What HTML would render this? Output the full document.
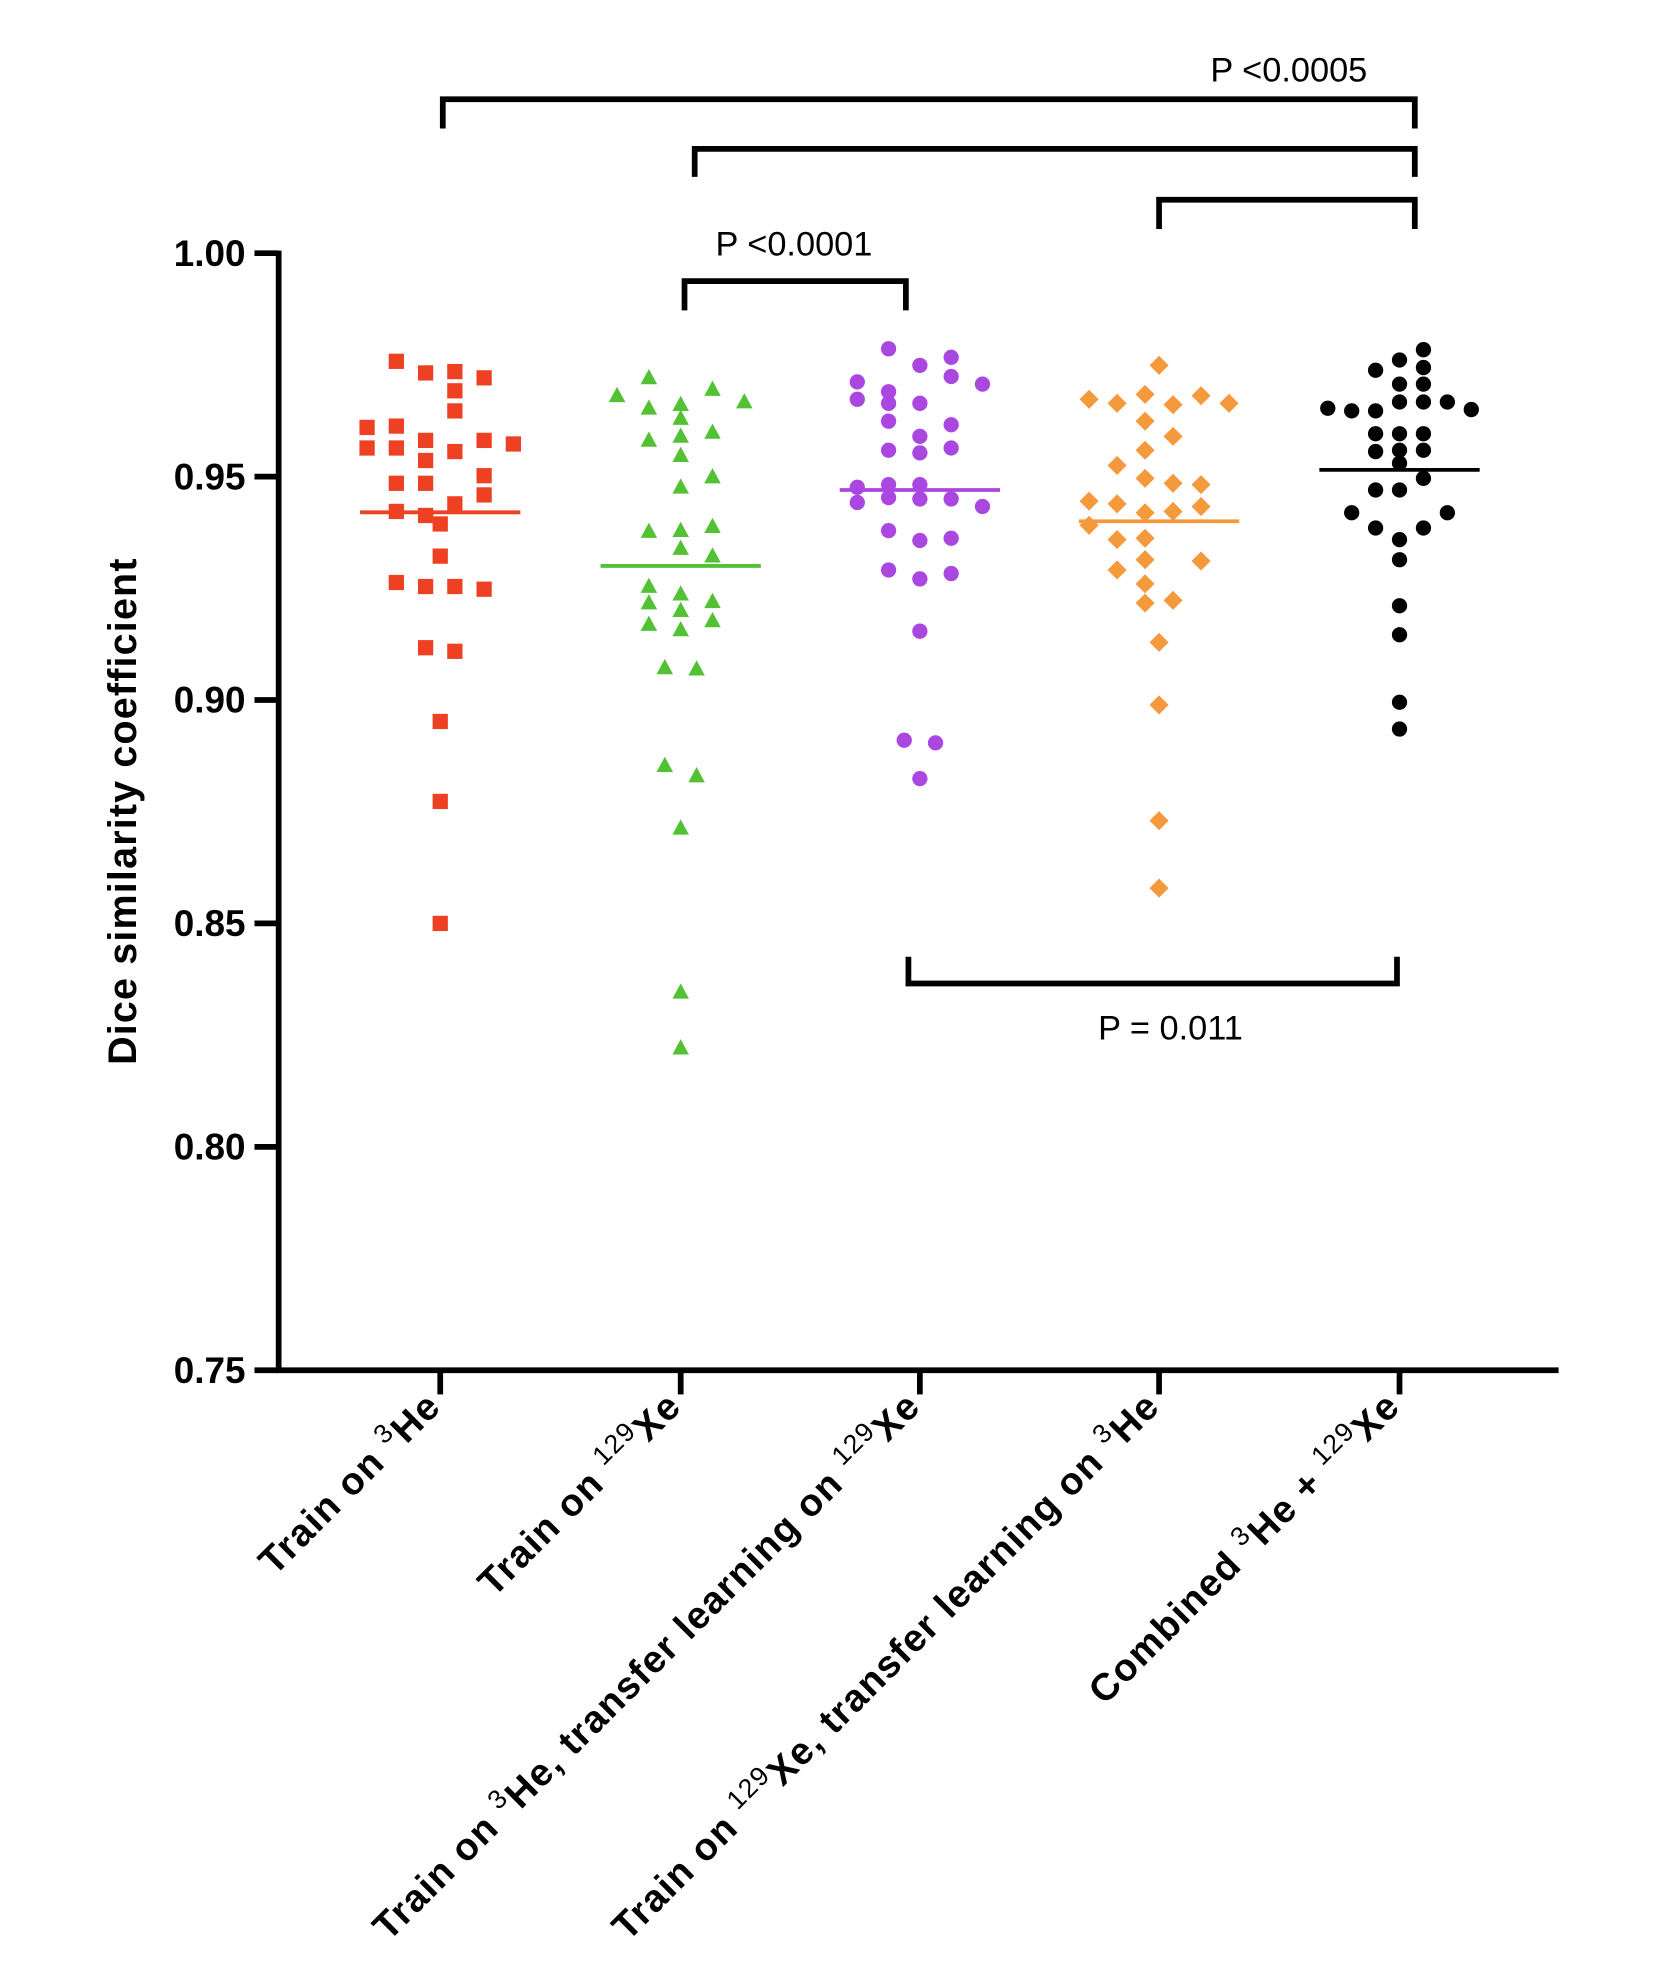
<!DOCTYPE html>
<html><head><meta charset="utf-8"><style>
html,body{margin:0;padding:0;background:#fff;}
svg{display:block;font-family:"Liberation Sans",Arial,sans-serif;}
</style></head><body>
<svg id="chart" width="1654" height="1978" viewBox="0 0 1300 1554.7" xmlns="http://www.w3.org/2000/svg"></svg>
<script>
const categories = ["Train on 3He","Train on 129Xe","Train on 3He, transfer learning on 129Xe","Train on 129Xe, transfer learning on 3He","Combined 3He + 129Xe"];
const colors = ["#ee4124","#52c234","#a947e0","#f59a3c","#000000"];
const shapes = ["square","triangle","circle","diamond","circle"];
const yTicks = [0.75,0.80,0.85,0.90,0.95,1.00];
const yTickLabels = ["0.75","0.80","0.85","0.90","0.95","1.00"];
const medians = [0.942,0.930,0.947,0.940,0.9515];

const valsRed = [.9758,.9732,.9735,.9721,.9610,.9613,.9692,.9647,.9564,.9564,.9581,.9536,.9556,.9581,.9573,.9502,.9485,.9485,.9459,.9422,.9413,.9439,.9394,.9322,.9263,.9254,.9254,.9248,.9117,.9109,.8952,.8773,.8500];
const slotRed = [-3,-1,1,3,-5,-3,1,1,-5,-3,-1,-1,1,3,5,3,-3,-1,3,-3,-1,1,0,0,-3,-1,1,3,-1,1,0,0,0];
const valsGreen = [.9721,.9681,.9653,.9661,.9695,.9667,.9630,.9599,.9581,.9590,.9547,.9499,.9476,.9377,.9379,.9388,.9339,.9322,.9254,.9237,.9217,.9220,.9200,.9169,.9157,.9177,.9072,.9069,.8853,.8830,.8713,.8346,.8221];
const slotGreen = [-2,-4,-2,0,2,4,0,2,-2,0,0,2,0,-2,0,2,0,2,-2,0,-2,2,0,-2,0,2,-1,1,-1,1,0,0,0];
const valsPurple = [.9786,.9712,.9690,.9749,.9767,.9724,.9707,.9673,.9664,.9664,.9624,.9590,.9616,.9559,.9553,.9564,.9476,.9482,.9482,.9453,.9442,.9450,.9450,.9433,.9379,.9357,.9362,.9291,.9271,.9283,.9154,.8910,.8904,.8824];
const slotPurple = [-2,-4,-2,0,2,2,4,-4,-2,0,-2,0,2,-2,0,2,-4,-2,0,-2,-4,0,2,4,-2,0,2,-2,0,2,0,-1,1,0];
const valsOrange = [.9749,.9673,.9664,.9684,.9661,.9681,.9664,.9624,.9590,.9559,.9525,.9496,.9485,.9482,.9445,.9439,.9419,.9422,.9433,.9391,.9359,.9362,.9311,.9291,.9314,.9260,.9223,.9217,.9129,.8989,.8730,.8579];
const slotOrange = [0,-5,-3,-1,1,3,5,-1,1,-1,-3,-1,1,3,-5,-3,-1,1,3,-5,-3,-1,3,-3,-1,-1,1,-1,0,0,0,0];
const valsBlack = [.9784,.9761,.9738,.9744,.9653,.9647,.9647,.9707,.9707,.9667,.9650,.9667,.9667,.9596,.9596,.9596,.9556,.9559,.9559,.9530,.9496,.9470,.9470,.9419,.9419,.9385,.9359,.9385,.9314,.9211,.9146,.8995,.8935];
const slotBlack = [2,0,-2,2,-6,-4,-2,0,2,4,6,0,2,-2,0,2,-2,0,2,0,2,-2,0,-4,4,-2,0,2,0,0,0,0,0];

const allVals = [valsRed,valsGreen,valsPurple,valsOrange,valsBlack];
const allSlots = [slotRed,slotGreen,slotPurple,slotOrange,slotBlack];
const slotUnit = [11.5,12.5,12.3,11,9.4];

const comparisons = [[0,4],[1,4],[3,4],[1,2],[2,4]];
const pLabels = ["P <0.0005","","","P <0.0001","P = 0.011"];

const NS="http://www.w3.org/2000/svg";
const svg=document.getElementById('chart');
const X0=219,X1=1225,Y0=1077,Y1=199;
const catX=[346,535,723,911,1100];
function y(v){return Y0-(v-0.75)/0.25*(Y0-Y1);}
function x(i){return catX[i];}
function el(tag,attrs,parent){const e=document.createElementNS(NS,tag);for(const k in attrs)e.setAttribute(k,attrs[k]);(parent||svg).appendChild(e);return e;}

const ya=el('line',{x1:X0,y1:Y1-2,x2:X0,y2:Y0+2,stroke:'#000','stroke-width':4.5});


const xa=el('line',{x1:X0-2,y1:Y0,x2:X1,y2:Y0,stroke:'#000','stroke-width':4.5});


yTicks.forEach((t,i)=>{
  const tk=el('line',{x1:X0-19,y1:y(t),x2:X0,y2:y(t),stroke:'#000','stroke-width':4.5});
  
  
  const tl=el('text',{x:X0-26,y:y(t)+10,'text-anchor':'end','font-size':29,'font-weight':'bold'});
  tl.textContent=yTickLabels[i];
  
  
});
const yt=el('text',{x:0,y:0,'text-anchor':'middle','font-size':31,'font-weight':'bold','textLength':398,transform:'translate(107,638) rotate(-90)'});
yt.textContent='Dice similarity coefficient';



function addLabel(i,parts){
  const t=el('text',{x:0,y:0,'text-anchor':'end','font-size':30,'font-weight':'bold','letter-spacing':1,transform:`translate(${x(i)+2},${Y0+30}) rotate(-45)`});
  
  
  parts.forEach(p=>{
    const s=el('tspan',p[1]?{'font-size':21,'font-weight':'normal',dy:-12}:{dy:p[2]?12:0},t);
    s.textContent=p[0];
  });
}
catX.forEach((cx,i)=>{
  const tk=el('line',{x1:x(i),y1:Y0,x2:x(i),y2:Y0+19,stroke:'#000','stroke-width':4.5});
  
  
});
addLabel(0,[["Train on "],["3",1],["He",0,1]]);
addLabel(1,[["Train on "],["129",1],["Xe",0,1]]);
addLabel(2,[["Train on "],["3",1],["He, transfer learning on ",0,1],["129",1],["Xe",0,1]]);
addLabel(3,[["Train on "],["129",1],["Xe, transfer learning on ",0,1],["3",1],["He",0,1]]);
addLabel(4,[["Combined "],["3",1],["He + ",0,1],["129",1],["Xe",0,1]]);

allVals.forEach((vals,g)=>{
  const grp=el('g',{fill:colors[g]});
  
  
  vals.forEach((v,k)=>{
    const px=x(g)+allSlots[g][k]*slotUnit[g], py=y(v);
    let m;
    if(shapes[g]==='square') m=el('rect',{x:px-6,y:py-6,width:12,height:12},grp);
    else if(shapes[g]==='triangle') m=el('polygon',{points:`${px},${py-7} ${px+6.5},${py+5} ${px-6.5},${py+5}`},grp);
    else if(shapes[g]==='diamond') m=el('polygon',{points:`${px},${py-7.5} ${px+7.5},${py} ${px},${py+7.5} ${px-7.5},${py}`},grp);
    else m=el('circle',{cx:px,cy:py,r:6},grp);
    
    
  });
  const md=el('line',{x1:x(g)-63,x2:x(g)+63,y1:y(medians[g]),y2:y(medians[g]),stroke:colors[g],'stroke-width':3});
  
  
});

const brk=[
  {xa:348,xb:1112,top:78,bot:101,ty:64,tx:1013},
  {xa:546,xb:1112,top:117,bot:139},
  {xa:911,xb:1112,top:157,bot:180},
  {xa:538,xb:712,top:221,bot:244,ty:201,tx:624},
  {xa:714,xb:1098,top:773,bot:752,ty:817,tx:920}
];
brk.forEach((b,i)=>{
  const p=el('path',{d:`M${b.xa},${b.bot} L${b.xa},${b.top} L${b.xb},${b.top} L${b.xb},${b.bot}`,fill:'none',stroke:'#000','stroke-width':4.5});
  
  
  if(pLabels[i]){
    const t=el('text',{x:b.tx,y:b.ty,'text-anchor':'middle','font-size':27});
    t.textContent=pLabels[i];
    
    
  }
});
</script>
</body></html>
